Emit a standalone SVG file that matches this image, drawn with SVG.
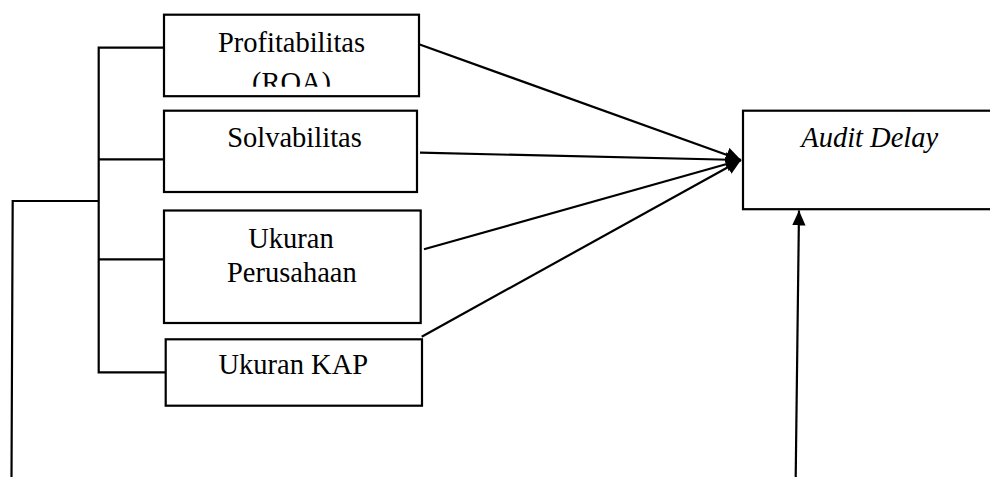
<svg xmlns="http://www.w3.org/2000/svg" width="990" height="477" viewBox="0 0 990 477">
<style>
.box{fill:#fff;stroke:#000;stroke-width:2.2}
.ln{fill:none;stroke:#000;stroke-width:2.2}
.t{font-family:"Liberation Serif","Times New Roman",serif;font-size:28.5px;fill:#000;text-anchor:middle}
.i{font-style:italic}
</style>
<defs>
<marker id="ah" viewBox="0 0 10 10" refX="10" refY="5" markerWidth="15" markerHeight="15" markerUnits="userSpaceOnUse" orient="auto">
<path d="M0,0 L10,5 L0,10 z" fill="#000"/>
</marker>
<marker id="ah2" viewBox="0 0 10 10" refX="10" refY="5" markerWidth="15" markerHeight="15" markerUnits="userSpaceOnUse" orient="auto">
<path d="M0,0.5 L10,5 L0,9.5 z" fill="#000"/>
</marker>
<clipPath id="c1"><rect x="164" y="14" width="256" height="72.7"/></clipPath>
</defs>
<g id="connectors">
<polyline class="ln" points="164,47.7 98.7,47.7 98.7,372.3 165.7,372.3"/>
<line class="ln" x1="98.7" y1="159.3" x2="164" y2="159.3"/>
<line class="ln" x1="98.7" y1="259.3" x2="164" y2="259.3"/>
<polyline class="ln" points="98.7,201 12.7,201 11.5,477"/>
<line class="ln" x1="419" y1="44.3" x2="741" y2="160" marker-end="url(#ah)"/>
<line class="ln" x1="420" y1="152.7" x2="741" y2="160" marker-end="url(#ah)"/>
<line class="ln" x1="424" y1="249.3" x2="741" y2="160" marker-end="url(#ah)"/>
<line class="ln" x1="421.7" y1="336.7" x2="741" y2="160" marker-end="url(#ah)"/>
<line class="ln" x1="795.7" y1="477" x2="799" y2="210.5" stroke-width="1.8" marker-end="url(#ah2)"/>
</g>
<g id="profitabilitas">
<rect class="box" x="164" y="14.7" width="255" height="81.5"/>
<text class="t" x="291.5" y="51.7">Profitabilitas</text>
<text class="t" x="291.5" y="91.5" clip-path="url(#c1)">(ROA)</text>
</g>
<g id="solvabilitas">
<rect class="box" x="164" y="110.7" width="253" height="81.3"/>
<text class="t" x="294.5" y="146.7">Solvabilitas</text>
</g>
<g id="ukuran-perusahaan">
<rect class="box" x="164" y="210.5" width="256.7" height="112.5"/>
<text class="t" x="291" y="247.7">Ukuran</text>
<text class="t" x="291.8" y="281.7">Perusahaan</text>
</g>
<g id="ukuran-kap">
<rect class="box" x="165.7" y="339.3" width="256.3" height="66.4"/>
<text class="t" x="293.3" y="374.3">Ukuran KAP</text>
</g>
<g id="audit-delay">
<rect class="box" x="743" y="110.7" width="260" height="98.5"/>
<text class="t i" x="869.7" y="146.7">Audit Delay</text>
</g>
</svg>
